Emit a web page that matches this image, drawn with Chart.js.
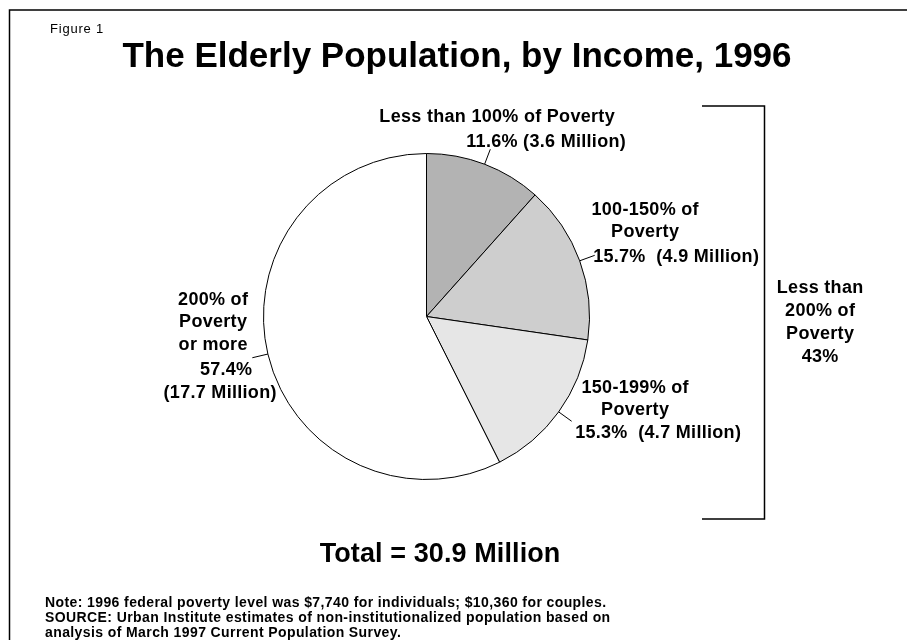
<!DOCTYPE html>
<html>
<head>
<meta charset="utf-8">
<title>The Elderly Population, by Income, 1996</title>
<script src="https://cdn.jsdelivr.net/npm/chart.js@4.4.1/dist/chart.umd.min.js"></script>
<style>
  html, body { margin: 0; padding: 0; background: #fff; }
</style>
</head>
<body>
<canvas id="grafica" width="907" height="640"></canvas>
<script>
// datos
const categorias = [
  ["Less than 100% of Poverty"],
  ["100-150% of", "Poverty"],
  ["150-199% of", "Poverty"],
  ["200% of", "Poverty", "or more"]
];
const porcentajes = [11.6, 15.7, 15.3, 57.4];
const millones = [3.6, 4.9, 4.7, 17.7];
const colores = ["#b3b3b3", "#cecece", "#e6e6e6", "#ffffff"];

// posicion de los textos de cada rebanada (centro x y linea base de cada renglon)
const etiquetas = [
  { cx: [497, 546], y: [122, 147], sep: " ", partir: false },
  { cx: [645, 645, 676], y: [215, 237, 262], sep: "  ", partir: false },
  { cx: [635, 635, 658], y: [393, 415, 438], sep: "  ", partir: false },
  { cx: [213, 213, 213, 226, 220], y: [305, 327, 350, 375, 398], sep: "", partir: true }
];

const FUENTE = '"Liberation Sans", Arial, Helvetica, sans-serif';

function texto(ctx, str, x, y, size, peso, espacio, align) {
  ctx.font = `${peso} ${size}px ${FUENTE}`;
  ctx.letterSpacing = espacio + "px";
  ctx.textAlign = align || "center";
  ctx.fillText(str, x + (align === "left" ? 0 : espacio / 2), y);
}

const anotaciones = {
  id: "anotaciones",
  afterDraw(chart) {
    const ctx = chart.ctx;
    const arcos = chart.getDatasetMeta(0).data;
    ctx.save();
    ctx.fillStyle = "#000";
    ctx.strokeStyle = "#000";
    ctx.textBaseline = "alphabetic";

    // marco
    ctx.lineWidth = 1.5;
    ctx.beginPath();
    ctx.moveTo(9.5, 640);
    ctx.lineTo(9.5, 10);
    ctx.lineTo(907, 10);
    ctx.stroke();

    texto(ctx, "Figure 1", 50, 33, 13, "normal", 0.8, "left");
    texto(ctx, "The Elderly Population, by Income, 1996", 457, 67, 35, "bold", 0);

    // lineas guia y etiquetas
    ctx.lineWidth = 1;
    arcos.forEach((arco, i) => {
      const { x, y, startAngle, endAngle, outerRadius } = arco.getProps(
        ["x", "y", "startAngle", "endAngle", "outerRadius"], true);
      const medio = (startAngle + endAngle) / 2;
      const c = Math.cos(medio), s = Math.sin(medio);
      ctx.beginPath();
      ctx.moveTo(x + c * outerRadius, y + s * outerRadius);
      ctx.lineTo(x + c * (outerRadius + 16), y + s * (outerRadius + 16));
      ctx.stroke();

      const e = etiquetas[i];
      let lineas = categorias[i].slice();
      if (e.partir) {
        lineas.push(porcentajes[i] + "%", "(" + millones[i] + " Million)");
      } else {
        lineas.push(porcentajes[i] + "%" + e.sep + "(" + millones[i] + " Million)");
      }
      lineas.forEach((l, j) => texto(ctx, l, e.cx[j], e.y[j], 18, "bold", 0.3));
    });

    // corchete de los grupos bajo 200%
    ctx.lineWidth = 1.5;
    ctx.beginPath();
    ctx.moveTo(702, 106);
    ctx.lineTo(764.5, 106);
    ctx.lineTo(764.5, 519);
    ctx.lineTo(702, 519);
    ctx.stroke();
    const bajo200 = Math.round(porcentajes[0] + porcentajes[1] + porcentajes[2]);
    ["Less than", "200% of", "Poverty", bajo200 + "%"].forEach((l, j) =>
      texto(ctx, l, 820, 293 + j * 23, 18, "bold", 0.3));

    const total = millones.reduce((a, b) => a + b, 0).toFixed(1);
    texto(ctx, "Total = " + total + " Million", 440, 562, 27, "bold", 0.1);

    const notas = [
      "Note: 1996 federal poverty level was $7,740 for individuals; $10,360 for couples.",
      "SOURCE: Urban Institute estimates of non-institutionalized population based on",
      "analysis of March 1997 Current Population Survey."
    ];
    notas.forEach((l, j) => texto(ctx, l, 45, 607 + j * 15, 14, "bold", 0.4, "left"));
    ctx.restore();
  }
};

new Chart(document.getElementById("grafica"), {
  type: "pie",
  data: {
    labels: categorias,
    datasets: [{
      data: porcentajes,
      backgroundColor: colores,
      borderColor: "#000",
      borderWidth: 1
    }]
  },
  options: {
    responsive: false,
    animation: false,
    radius: 163,
    layout: { padding: { left: 100, right: 154, top: 100, bottom: 107 } },
    plugins: {
      legend: { display: false },
      tooltip: { enabled: false },
      title: { display: false }
    }
  },
  plugins: [anotaciones]
});
</script>
</body>
</html>
